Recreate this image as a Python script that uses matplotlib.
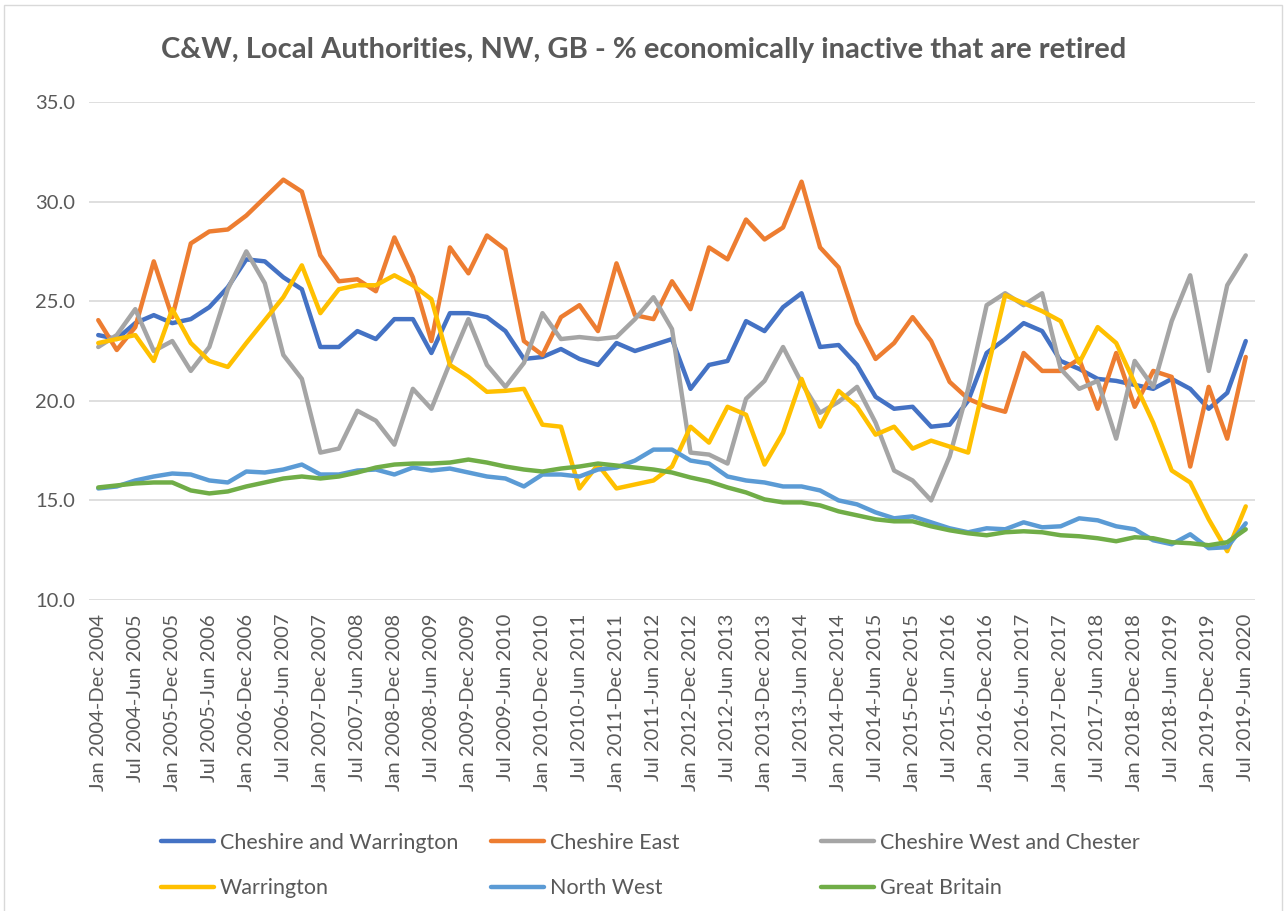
import matplotlib
matplotlib.use("Agg")
import matplotlib.pyplot as plt
from matplotlib.patches import Rectangle

# rolling annual periods, quarterly steps
periods = []
for year in range(2004, 2020):
    for m0, m1, off in [("Jan", "Dec", 0), ("Apr", "Mar", 1), ("Jul", "Jun", 1), ("Oct", "Sep", 1)]:
        periods.append(f"{m0} {year}-{m1} {year + off}")
periods = periods[:63]

cheshire_warrington = [
    23.3, 23.1, 23.9, 24.3, 23.9, 24.1, 24.7, 25.7, 27.1, 27.0, 26.2, 25.6, 22.7, 22.7, 23.5, 23.1,
    24.1, 24.1, 22.4, 24.4, 24.4, 24.2, 23.5, 22.1, 22.2, 22.6, 22.1, 21.8, 22.9, 22.5, 22.8, 23.1,
    20.6, 21.8, 22.0, 24.0, 23.5, 24.7, 25.4, 22.7, 22.8, 21.8, 20.2, 19.6, 19.7, 18.7, 18.8, 20.0,
    22.4, 23.1, 23.9, 23.5, 22.0, 21.6, 21.1, 21.0, 20.8, 20.6, 21.1, 20.6, 19.6, 20.4, 23.0]
cheshire_east = [
    24.05, 22.55, 23.7, 27.0, 24.2, 27.9, 28.5, 28.6, 29.3, 30.2, 31.1, 30.5, 27.3, 26.0, 26.1, 25.5,
    28.2, 26.2, 23.0, 27.7, 26.4, 28.3, 27.6, 23.0, 22.3, 24.2, 24.8, 23.5, 26.9, 24.3, 24.1, 26.0,
    24.6, 27.7, 27.1, 29.1, 28.1, 28.7, 31.0, 27.7, 26.7, 23.9, 22.1, 22.9, 24.2, 23.0, 20.95, 20.1,
    19.7, 19.45, 22.4, 21.5, 21.5, 22.1, 19.6, 22.4, 19.7, 21.5, 21.2, 16.7, 20.7, 18.1, 22.2]
cheshire_west = [
    22.7, 23.3, 24.6, 22.5, 23.0, 21.5, 22.7, 25.6, 27.5, 25.9, 22.3, 21.1, 17.4, 17.6, 19.5, 19.0,
    17.8, 20.6, 19.6, 21.9, 24.1, 21.8, 20.7, 21.9, 24.4, 23.1, 23.2, 23.1, 23.2, 24.1, 25.2, 23.6,
    17.4, 17.3, 16.85, 20.1, 21.0, 22.7, 20.9, 19.4, 19.95, 20.7, 18.9, 16.5, 16.0, 15.0, 17.2, 20.6,
    24.8, 25.4, 24.8, 25.4, 21.6, 20.6, 21.0, 18.1, 22.0, 20.7, 24.0, 26.3, 21.5, 25.8, 27.3]
warrington = [
    22.9, 23.1, 23.3, 22.0, 24.6, 22.9, 22.0, 21.7, 22.9, 24.05, 25.2, 26.8, 24.4, 25.6, 25.8, 25.8,
    26.3, 25.8, 25.1, 21.8, 21.2, 20.45, 20.5, 20.6, 18.8, 18.7, 15.6, 16.8, 15.6, 15.8, 16.0, 16.7,
    18.7, 17.9, 19.7, 19.3, 16.8, 18.4, 21.1, 18.7, 20.5, 19.7, 18.3, 18.7, 17.6, 18.0, 17.7, 17.4,
    21.4, 25.3, 24.9, 24.5, 24.0, 21.9, 23.7, 22.9, 20.9, 18.9, 16.5, 15.9, 14.05, 12.45, 14.7]
north_west = [
    15.6, 15.7, 16.0, 16.2, 16.35, 16.3, 16.0, 15.9, 16.45, 16.4, 16.55, 16.8, 16.3, 16.3, 16.5, 16.55,
    16.3, 16.65, 16.5, 16.6, 16.4, 16.2, 16.1, 15.7, 16.3, 16.3, 16.2, 16.55, 16.65, 17.0, 17.55, 17.55,
    17.0, 16.85, 16.2, 16.0, 15.9, 15.7, 15.7, 15.5, 15.0, 14.8, 14.4, 14.1, 14.2, 13.9, 13.6, 13.4,
    13.6, 13.55, 13.9, 13.65, 13.7, 14.1, 14.0, 13.7, 13.55, 13.0, 12.8, 13.3, 12.6, 12.65, 13.85]
great_britain = [
    15.65, 15.75, 15.85, 15.9, 15.9, 15.5, 15.35, 15.45, 15.7, 15.9, 16.1, 16.2, 16.1, 16.2, 16.4, 16.65,
    16.8, 16.85, 16.85, 16.9, 17.05, 16.9, 16.7, 16.55, 16.45, 16.6, 16.7, 16.85, 16.75, 16.65, 16.55, 16.4,
    16.15, 15.95, 15.65, 15.4, 15.05, 14.9, 14.9, 14.75, 14.45, 14.25, 14.05, 13.95, 13.95, 13.7, 13.5, 13.35,
    13.25, 13.4, 13.45, 13.4, 13.25, 13.2, 13.1, 12.95, 13.15, 13.1, 12.9, 12.85, 12.75, 12.9, 13.55]

series = [
    ("Cheshire and Warrington", cheshire_warrington, "#4472C4"),
    ("Cheshire East", cheshire_east, "#ED7D31"),
    ("Cheshire West and Chester", cheshire_west, "#A5A5A5"),
    ("Warrington", warrington, "#FFC000"),
    ("North West", north_west, "#5B9BD5"),
    ("Great Britain", great_britain, "#70AD47"),
]

plt.rcParams['font.family'] = ['Lato', 'DejaVu Sans']
text_grey = '#595959'

fig = plt.figure(figsize=(12.87, 9.11), dpi=100)
ax = fig.add_axes([89 / 1287, 1 - 600 / 911, (1255 - 89) / 1287, (600 - 102) / 911])

x = list(range(len(periods)))
handles = []
for name, vals, col in series:
    h, = ax.plot(x, vals, color=col, lw=3.2, label=name, solid_joinstyle='round', solid_capstyle='round')
    handles.append(h)

ax.set_xlim(-0.5, len(periods) - 0.5)
ax.set_ylim(10, 35)
ax.set_yticks([10, 15, 20, 25, 30, 35])
ax.set_yticklabels([f"{v:.1f}" for v in [10, 15, 20, 25, 30, 35]])
ax.set_xticks(x[::2])
ax.set_xticklabels(periods[::2], rotation=90)
ax.tick_params(axis='both', length=0, labelsize=14.5, colors=text_grey)
ax.tick_params(axis='x', pad=10)
ax.tick_params(axis='y', pad=10)
ax.grid(axis='y', color='#D9D9D9', lw=1.2)
ax.set_axisbelow(True)
for s in ax.spines.values():
    s.set_visible(False)

fig.text(0.5, 1 - 50 / 911, "C&W, Local Authorities, NW, GB - % economically inactive that are retired",
         ha='center', va='center', fontsize=21, fontweight='bold', color=text_grey)

# legend laid out in three columns like the original
cols = [(152, [0, 3]), (482, [1, 4]), (812, [2, 5])]
for px, idx in cols:
    fig.legend(handles=[handles[i] for i in idx], loc='upper left',
               bbox_to_anchor=(px / 1287, 1 - 824 / 911), frameon=False,
               fontsize=15.5, handlelength=2.5, handletextpad=0.25, labelspacing=1.2,
               labelcolor=text_grey, borderaxespad=0)

fig.patches.append(Rectangle((4 / 1287, -0.01), 1278 / 1287, 1.01 - 5 / 911, transform=fig.transFigure,
                             fill=False, edgecolor='#D9D9D9', lw=1))

fig.savefig("out.png", dpi=100)
